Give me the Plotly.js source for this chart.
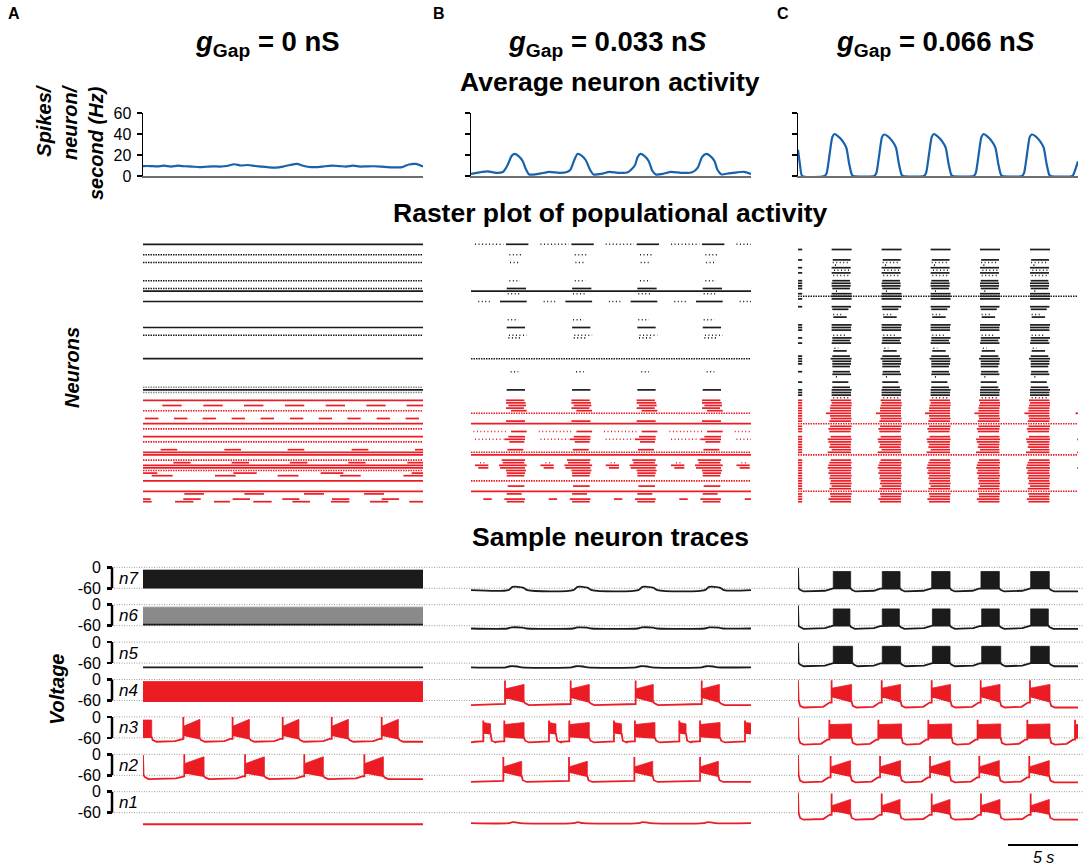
<!DOCTYPE html>
<html>
<head>
<meta charset="utf-8">
<script src="https://cdn.plot.ly/plotly-3.0.1.min.js"></script>
<style>
html,body{margin:0;padding:0;background:#ffffff;}
#chart{width:1084px;height:865px;}
</style>
</head>
<body>
<div id="chart"></div>
<script>
// ================= DATA =================
const panelLetters = ['A', 'B', 'C'];
const columnTitles = [
  '<i>g</i><sub>Gap</sub> = 0 nS',
  '<i>g</i><sub>Gap</sub> = 0.033 n<i>S</i>',
  '<i>g</i><sub>Gap</sub> = 0.066 n<i>S</i>'
];
const sectionTitles = ['Average neuron activity', 'Raster plot of populational activity', 'Sample neuron traces'];
const rateAxisTitle = 'Spikes/<br>neuron/<br>second (Hz)';
const rasterAxisTitle = 'Neurons';
const traceAxisTitle = 'Voltage';
const rateTicks = [0, 20, 40, 60];
const voltTicks = [0, -60];
const voltTickText = ['0', '-60'];
const neuronLabels = ['n7', 'n6', 'n5', 'n4', 'n3', 'n2', 'n1'];
const scaleBarSeconds = [15, 20];
const scaleBarLabel = '5 s';

// Average neuron activity (Hz) vs time (s)
const rateTimeA = [0,0.5,1,1.5,2,2.5,3,3.5,4,4.5,5,5.5,6,6.5,7,7.5,8,8.5,9,9.5,10,10.5,11,11.5,12,12.5,13,13.5,14,14.5,15,15.5,16,16.5,17,17.5,18,18.5,19,19.5,20];
const rateA = [9.5,9.5,9.2,9.8,9.0,9.8,9.3,9.0,8.5,8.8,9.2,9.0,9.5,11.2,10.0,10.5,9.5,9.0,8.2,8.0,9.0,10.5,11.5,9.5,8.5,8.5,9.3,9.8,9.5,9.0,9.8,9.0,9.2,9.3,9.0,8.5,8.2,8.5,11.0,11.5,9.0];
const rateTimeB = [0,0.6,1.2,1.8,2.3,2.6,2.9,3.1,3.4,3.7,3.9,4.15,4.6,5.0,5.6,6.3,6.8,7.1,7.4,7.6,7.9,8.2,8.5,8.75,9.3,9.9,10.5,11.2,11.7,11.9,12.1,12.4,12.7,12.95,13.2,13.7,14.3,15.0,15.8,16.2,16.5,16.8,17.1,17.4,17.6,17.9,18.4,19.0,19.5,20];
const rateB = [2,3.5,4.5,3,4,10,19,21,19,14,7,1.5,1.5,2.5,4,3,3.5,6,16,21,19.5,15,6,1.5,2,4,3,3.5,10,18,21,19,14,5,1.5,2,4,3,3.5,8,18,21,19,14,6,1.5,2.5,3.5,4,2];
const rateTimeC = [0,0.15,0.3,1.9,2.05,2.25,2.45,2.6,2.85,3.2,3.45,3.65,3.85,3.95,
  5.45,5.6,5.8,6.0,6.15,6.4,6.75,7.0,7.2,7.4,7.5,
  9.0,9.15,9.35,9.55,9.7,9.95,10.3,10.55,10.75,10.95,11.05,
  12.55,12.7,12.9,13.1,13.25,13.5,13.85,14.1,14.3,14.5,14.6,
  16.0,16.15,16.35,16.55,16.7,16.95,17.3,17.55,17.75,17.95,18.05,
  19.6,19.75,20];
const rateC = [25,10,0,0,3,20,37,40,38,33,27,12,1,0,
  0,3,20,37,39.5,38,33,27,12,1,0,
  0,3,20,37,40,38,33,27,12,1,0,
  0,3,20,37,40,38,33,27,12,1,0,
  0,3,20,37,39.5,38,33,27,12,1,0,
  0,4,14];

// Raster A: tonic rows [neuron, colour, pattern]
const rasterTonicA = [
  [100,'k','solid'],[96,'k','dot'],[93,'k','dot'],[86,'k','dot'],[83,'k','dot'],[82,'k','solid'],[78,'k','solid'],
  [68,'k','solid'],[65,'k','dot'],[56,'k','solid'],[45,'g','dot'],[44,'k','solid'],[43,'g','dot'],
  [40,'r','solid'],[36,'r','dot'],[31,'r','solid'],[29,'r','dot'],[26,'r','solid'],[24,'r','dot'],[20,'r','solid'],
  [19,'r','solid'],[17,'r','dot'],[15,'r','solid'],[14,'r','solid'],[13,'r','dot'],[9,'r','solid'],[5,'r','solid']
];
// Raster A: bursting rows [neuron, colour, [[start,end] s ...]]
const rasterBurstA = [
  [38,'r',[[1.38,2.76],[4.31,5.69],[7.21,8.60],[10.14,11.52],[13.05,14.43],[15.95,17.33],[18.83,20]]],
  [33,'r',[[0.14,1.10],[2.21,3.17],[4.26,5.21],[6.33,7.29],[8.40,9.36],[10.5,11.45],[12.55,13.5],[14.6,15.55],[16.69,17.64],[18.76,19.71]]],
  [21,'r',[[1.26,2.45],[5.81,7.0],[10.33,11.52],[14.9,16.1],[19.43,20]]],
  [16,'r',[[2.17,3.40],[6.33,7.57],[10.5,11.74],[14.67,15.9],[18.88,20]]],
  [12,'r',[[0,1.02],[6.45,8.12],[12.69,14.31],[19.19,20]]],
  [11,'r',[[0.62,2.12],[5.14,6.62],[9.62,11.1],[14.07,15.55],[18.6,20]]],
  [4,'r',[[2.95,4.36],[7.24,8.64],[11.5,12.93],[15.79,17.21]]],
  [2,'r',[[0,0.55],[2.88,4.12],[6.40,7.64],[9.95,11.17],[13.5,14.74],[17.05,18.29]]],
  [1,'r',[[0,0.62],[2.29,3.6],[5.07,6.21],[7.88,9.19],[10.67,11.93],[13.43,14.74],[16.21,17.52],[19.02,20]]]
];

// Raster B: cycle onsets (s), tonic rows, and per-cycle firing windows [neuron, colour, pattern, start, end]
const cycleOnsetsB = [0, 4.67, 9.33, 14.0, 18.67];
const rasterTonicB = [[82,'k','solid'],[56,'k','dot'],[35,'r','dot'],[31,'r','solid'],[20,'r','dot'],[19,'r','solid'],[9,'r','dot'],[5,'r','solid']];
const rasterCycleB = [
  [100,'k','sparse',0.29,2.31],[100,'k','solid',2.5,4.1],
  [96,'k','sparse',2.74,3.69],[93,'k','sparse',2.79,3.38],[86,'k','sparse',2.74,3.5],
  [83,'k','solid',2.55,3.93],[81,'k','sparse',2.62,3.45],
  [78,'k','sparse',0.52,1.36],[78,'k','solid',2.07,3.98],
  [71,'k','sparse',2.62,3.38],[68,'k','solid',2.55,3.86],[65,'k','sparse',2.71,3.98],[64,'k','sparse',2.67,3.55],
  [51,'k','sparse',2.83,3.38],[44,'k','solid',2.55,3.86],
  [40,'r','solid',2.5,3.81],[39,'r','solid',2.5,3.9],[38,'r','solid',2.67,3.93],[37,'r','solid',2.5,3.79],[36,'r','solid',2.86,3.98],
  [32,'r','solid',2.5,3.86],
  [28,'r','sparse',0.17,2.5],[28,'r','solid',2.86,3.98],
  [26,'r','solid',2.67,3.86],
  [25,'r','sparse',0.29,2.31],[25,'r','solid',2.38,3.86],
  [24,'r','solid',2.74,3.81],[21,'r','solid',2.6,3.74],[17,'r','solid',2.19,3.86],
  [16,'r','sparse',0.64,1.12],[16,'r','solid',2.26,3.81],
  [15,'r','solid',0.29,1.24],[15,'r','solid',2.0,3.98],
  [14,'r','solid',0.52,1.24],[14,'r','solid',2.07,3.86],
  [13,'r','solid',2.5,3.93],[12,'r','solid',2.55,3.86],[11,'r','solid',2.55,3.81],[7,'r','solid',2.62,3.81],
  [4,'r','solid',2.55,3.62],[2,'r','solid',0.88,1.48],[2,'r','solid',2.38,3.86],[1,'r','solid',2.55,3.81]
];

// Raster C
const cycleOnsetsC = [0, 3.57, 7.07, 10.6, 14.17, 17.82];
const rasterTonicC = [[80,'k','dot'],[31,'r','dot'],[19,'r','dot'],[5,'r','dot']];
const rasterCycleC = [
  [98,'k','solid',2.40,3.83],[94,'k','solid',2.48,3.76],[93,'k','sparse',2.48,3.71],[92,'k','sparse',2.64,2.76],
  [91,'k','solid',2.40,3.76],[90,'k','sparse',2.57,3.71],[89,'k','solid',2.40,3.76],[88,'k','sparse',2.52,3.60],
  [86,'k','solid',2.45,3.71],[85,'k','solid',2.40,3.76],[84,'k','solid',2.40,3.76],[83,'k','solid',2.45,3.71],
  [82,'k','sparse',2.71,2.95],[81,'k','solid',2.40,3.83],[80,'k','solid',2.40,3.83],[79,'k','solid',2.40,3.83],
  [76,'k','solid',2.40,3.79],[75,'k','solid',2.45,3.60],[73,'k','sparse',2.52,3.12],[72,'k','solid',2.52,3.48],
  [69,'k','solid',2.40,3.83],[68,'k','solid',2.40,3.79],[67,'k','solid',2.40,3.79],[65,'k','sparse',2.52,3.36],
  [64,'k','solid',2.45,3.83],[63,'k','solid',2.45,3.71],[62,'k','solid',2.40,3.79],[60,'k','sparse',2.60,2.88],
  [59,'k','solid',2.52,3.48],[57,'k','solid',2.45,3.71],[56,'k','solid',2.33,3.83],[55,'k','solid',2.45,3.79],
  [54,'k','solid',2.45,3.79],[53,'k','solid',2.45,3.71],[51,'k','solid',2.48,3.71],[50,'k','solid',2.45,3.79],
  [49,'k','sparse',2.71,2.88],[47,'k','solid',2.45,3.60],[45,'k','solid',2.45,3.71],[44,'k','solid',2.40,3.83],
  [43,'k','solid',2.40,3.79],[42,'k','solid',2.40,3.79],[41,'k','sparse',2.52,3.60],
  [40,'r','solid',2.33,3.79],[39,'r','solid',2.40,3.83],[38,'r','solid',2.33,3.83],[37,'r','solid',2.29,3.79],
  [36,'r','solid',2.29,3.79],[35,'r','solid',2.0,3.79],[34,'r','solid',2.29,3.79],[33,'r','solid',2.33,3.83],
  [32,'r','solid',2.24,3.79],[30,'r','solid',2.29,3.83],[29,'r','solid',2.17,3.79],[28,'r','solid',2.24,3.76],
  [26,'r','solid',2.33,3.79],[25,'r','solid',2.12,3.83],[24,'r','solid',2.17,3.79],[23,'r','solid',2.29,3.79],
  [22,'r','solid',2.24,3.76],[21,'r','solid',2.40,3.79],[20,'r','solid',2.12,3.79],[17,'r','solid',2.33,3.79],
  [16,'r','solid',2.24,3.83],[15,'r','solid',2.17,3.79],[14,'r','solid',2.12,3.83],[13,'r','solid',2.24,3.79],
  [12,'r','solid',2.17,3.79],[11,'r','solid',2.29,3.83],[10,'r','solid',2.24,3.79],[9,'r','solid',2.33,3.79],
  [8,'r','solid',2.29,3.83],[7,'r','solid',2.40,3.79],[6,'r','solid',2.24,3.79],[4,'r','solid',2.29,3.83],
  [3,'r','solid',2.33,3.79],[2,'r','solid',2.17,3.79],[1,'r','solid',2.29,3.79]
];
const rasterOnsetWindowC = [0, 0.3];
const rasterOnsetNeuronsC = [98,94,91,89,86,85,84,83,81,79,76,69,68,67,64,62,57,56,55,54,51,47,44,43,42,
  40,39,38,37,36,35,34,33,32,30,29,28,26,25,24,23,22,21,20,17,16,15,14,13,12,11,10,9,8,7,6,4,3,2,1];

// Sample neuron traces (mV); bursts: [start s, end s, (topStart, topEnd, botStart, botEnd)]
const tracesA = [
  {kind:'tonic', colour:'k', top:-8, bot:-58},
  {kind:'tonic', colour:'g', top:-7, bot:-57},
  {kind:'wave', colour:'k', rest:-72, bumps:[]},
  {kind:'tonic', colour:'r', top:-6, bot:-62},
  {kind:'burst', colour:'r', rest:-71, pre:-63, spike:0, top:[-27,-7], bot:[-52,-62],
   bursts:[[0,0.62,-9,-9,-58,-58],[2.88,4.07],[6.40,7.60],[9.98,11.14],[13.48,14.67],[17.05,18.24]]},
  {kind:'burst', colour:'r', rest:-71, pre:-63, spike:0, startSpike:true, top:[-27,-7], bot:[-52,-62],
   bursts:[[2.95,4.36],[7.29,8.67],[11.52,12.88],[15.81,17.17]]},
  {kind:'wave', colour:'r', rest:-93, bumps:[]}
];
const tracesB = [
  {kind:'wave', colour:'k', rest:-65, bumps:[[2.67,4.02,9],[7.31,8.62,9],[11.95,13.31,9],[16.71,18.07,9]]},
  {kind:'wave', colour:'k', rest:-68, bumps:[[2.6,4.0,3],[7.3,8.6,3],[11.9,13.3,3],[16.7,18.0,3]]},
  {kind:'wave', colour:'k', rest:-72, bumps:[[2.5,3.6,3],[7.2,8.3,3],[11.8,12.9,3],[16.5,17.6,3]]},
  {kind:'burst', colour:'r', rest:-73, pre:-70, spike:-3, top:[-27,-14], bot:[-50,-64],
   bursts:[[2.43,3.79],[7.12,8.45],[11.76,13.02],[16.48,17.74]]},
  {kind:'burst', colour:'r', rest:-73, pre:-70, spike:-10, top:[-22,-16], bot:[-56,-60],
   bursts:[[0.88,1.40,-16,-20,-45,-48],[2.38,3.79],[5.57,6.07,-16,-20,-45,-48],[7.02,8.45],[10.21,10.76,-16,-20,-45,-48],
           [11.71,13.14],[14.88,15.36,-16,-20,-45,-48],[16.36,17.79],[19.57,20,-16,-18,-45,-48]]},
  {kind:'burst', colour:'r', rest:-79, pre:-76, spike:-8, top:[-36,-20], bot:[-50,-62],
   bursts:[[2.31,3.62],[7.0,8.31],[11.67,12.98],[16.36,17.67]]},
  {kind:'wave', colour:'r', rest:-90, bumps:[[2.67,3.5,3],[7.31,8.02,3],[11.95,12.79,3],[16.6,17.43,3]]}
];
const tracesC = [
  {kind:'burst', colour:'k', rest:-69, pre:-61, startSpike:true, top:[-12,-12], bot:[-60,-60],
   bursts:[[2.52,3.76],[6.02,7.29],[9.55,10.86],[13.07,14.38],[16.62,17.95]]},
  {kind:'burst', colour:'k', rest:-69, pre:-61, startSpike:true, top:[-12,-12], bot:[-60,-60],
   bursts:[[2.52,3.71],[6.02,7.24],[9.60,10.86],[13.12,14.38],[16.62,17.88]]},
  {kind:'burst', colour:'k', rest:-69, pre:-61, startSpike:true, top:[-12,-12], bot:[-60,-60],
   bursts:[[2.52,3.90],[6.02,7.33],[9.60,10.86],[13.12,14.48],[16.62,17.95]]},
  {kind:'burst', colour:'r', rest:-80, pre:-66, spike:-2, startSpike:true, top:[-25,-14], bot:[-48,-63],
   bursts:[[2.40,3.83],[5.98,7.33],[9.55,10.90],[13.05,14.43],[16.57,18.0]]},
  {kind:'burst', colour:'r', rest:-79, pre:-65, spike:-8, startSpike:true, top:[-22,-20], bot:[-60,-60],
   bursts:[[2.24,3.83],[5.74,7.40],[9.31,10.98],[12.83,14.48],[16.38,18.0],[19.79,20,-22,-22,-60,-60]]},
  {kind:'burst', colour:'r', rest:-80, pre:-66, spike:-5, startSpike:true, top:[-36,-18], bot:[-50,-62],
   bursts:[[2.33,3.76],[5.86,7.33],[9.43,10.86],[12.95,14.38],[16.52,17.95]]},
  {kind:'burst', colour:'r', rest:-80, pre:-66, spike:-5, startSpike:true, top:[-40,-22], bot:[-52,-63],
   bursts:[[2.40,3.76],[5.98,7.29],[9.55,10.86],[13.07,14.43],[16.62,17.95]]}
];

// ================= STYLE / GEOMETRY =================
const W = 1084, H = 865;
const px = x => x / W;
const py = y => 1 - y / H;
const FONT = 'Liberation Sans, Arial, Helvetica, sans-serif';
const COL = {k:'#1b1b1b', r:'#ec1c24', g:'#8a8a8a'};
const BLUE = '#1761ad';
const X_COLS = [[143,423],[471,751],[798,1078]];
const RATE_TOP = 113, RATE_BOT = 176;
const RASTER_TOP = 243, RASTER_BOT = 503;
const ROW_ZERO = [567.3, 604.7, 642.1, 679.5, 716.9, 754.3, 791.7];
const MV_PX = 0.35;
const PATTERN = {
  solid: {dash:'solid', width:1.7},
  dot: {dash:'1.5px,1px', width:1.6},
  sparse: {dash:'1px,2.5px', width:1.6}
};

const data = [];

// ---- average activity ----
[[rateTimeA, rateA], [rateTimeB, rateB], [rateTimeC, rateC]].forEach((d, i) => {
  data.push({type:'scatter', mode:'lines', x:d[0], y:d[1],
    xaxis: i === 0 ? 'x' : 'x' + (i + 1), yaxis: i === 0 ? 'y' : 'y' + (i + 1),
    line:{color:BLUE, width:2.2, shape:'spline', smoothing:0.6}, hoverinfo:'skip'});
});

// ---- raster ----
function rasterTraces(col, segs) {
  const groups = {};
  segs.forEach(s => {
    const key = s.c + '|' + s.p;
    if (!groups[key]) groups[key] = {x:[], y:[], c:s.c, p:s.p};
    groups[key].x.push(s.a, s.b, null);
    groups[key].y.push(s.n, s.n, null);
  });
  const order = ['g|dot','k|sparse','k|dot','k|solid','r|sparse','r|dot','r|solid'];
  order.forEach(key => {
    const g = groups[key];
    if (!g) return;
    data.push({type:'scatter', mode:'lines', x:g.x, y:g.y, xaxis:'x' + (4 + col), yaxis:'y4',
      line:{color:COL[g.c], width:PATTERN[g.p].width, dash:PATTERN[g.p].dash}, hoverinfo:'skip'});
  });
}
function clipSeg(list, n, c, p, a, b) {
  const s = Math.max(0, a), e = Math.min(20, b);
  if (e > s) list.push({n, c, p, a:s, b:e});
}
// A
(function(){
  const segs = [];
  rasterTonicA.forEach(r => clipSeg(segs, r[0], r[1], r[2], 0, 20));
  rasterBurstA.forEach(r => r[2].forEach(iv => clipSeg(segs, r[0], r[1], 'solid', iv[0], iv[1])));
  rasterTraces(0, segs);
})();
// B
(function(){
  const segs = [];
  rasterTonicB.forEach(r => clipSeg(segs, r[0], r[1], r[2], 0, 20));
  rasterCycleB.forEach(r => cycleOnsetsB.forEach(o => clipSeg(segs, r[0], r[1], r[2], r[3] + o, r[4] + o)));
  rasterTraces(1, segs);
})();
// C
(function(){
  const segs = [];
  rasterTonicC.forEach(r => clipSeg(segs, r[0], r[1], r[2], 0, 20));
  rasterCycleC.forEach(r => cycleOnsetsC.forEach(o => clipSeg(segs, r[0], r[1], r[2], r[3] + o, r[4] + o)));
  rasterOnsetNeuronsC.forEach(n => clipSeg(segs, n, n > 40 ? 'k' : 'r', 'solid', rasterOnsetWindowC[0], rasterOnsetWindowC[1]));
  rasterTraces(2, segs);
})();

// ---- sample traces ----
function buildTrace(sp) {
  const lx = [], ly = [], fx = [], fy = [];
  const add = (t, v) => {
    if (lx.length && t < lx[lx.length - 1]) return;
    lx.push(t); ly.push(v);
  };
  if (sp.kind === 'tonic') {
    fx.push(0, 0, 20, 20, null); fy.push(sp.bot, sp.top, sp.top, sp.bot, null);
    add(0, sp.bot); add(20, sp.bot);
    return {lx, ly, fx, fy, smooth:false};
  }
  if (sp.kind === 'wave') {
    add(0, sp.rest);
    sp.bumps.forEach(b => {
      add(b[0], sp.rest); add(b[0] + 0.3, sp.rest + b[2]); add(b[1] - 0.3, sp.rest + b[2] * 0.75); add(b[1], sp.rest);
    });
    add(20, sp.rest);
    return {lx, ly, fx, fy, smooth:true};
  }
  if (sp.startSpike) { add(0, -2); add(0.04, -60); add(0.15, sp.rest + 5); add(0.4, sp.rest); }
  else if (sp.bursts[0][0] > 0.01) add(0, sp.rest);
  sp.bursts.forEach(b => {
    const s = b[0], e = b[1];
    const t0 = b.length > 2 ? b[2] : sp.top[0];
    const t1 = b.length > 3 ? b[3] : sp.top[1];
    const b0 = b.length > 4 ? b[4] : sp.bot[0];
    const b1 = b.length > 5 ? b[5] : sp.bot[1];
    if (s > 0.01) {
      add(s - 0.6, sp.rest + 2); add(s - 0.15, sp.pre); add(s, sp.pre);
      if (sp.spike !== undefined) add(s, sp.spike);
      add(s, b0);
    } else add(0, b0);
    add(e, b1);
    fx.push(s, s, e, e, null); fy.push(b0, t0, t1, b1, null);
    if (e < 19.95) { add(e + 0.08, sp.rest + 5); add(e + 0.35, sp.rest); }
  });
  if (lx[lx.length - 1] < 20) add(20, sp.rest);
  return {lx, ly, fx, fy, smooth:false};
}
[tracesA, tracesB, tracesC].forEach((col, c) => {
  col.forEach((sp, k) => {
    const tr = buildTrace(sp);
    const xa = 'x' + (4 + c), ya = 'y' + (5 + k);
    const colour = COL[sp.colour];
    if (tr.fx.length) {
      data.push({type:'scatter', mode:'lines', x:tr.fx, y:tr.fy, xaxis:xa, yaxis:ya, fill:'toself',
        fillcolor:colour, line:{color:colour, width:0.8}, hoverinfo:'skip'});
    }
    data.push({type:'scatter', mode:'lines', x:tr.lx, y:tr.ly, xaxis:xa, yaxis:ya,
      line:{color: sp.colour === 'g' ? COL.k : colour, width:1.8, shape: tr.smooth ? 'spline' : 'linear', smoothing:0.8},
      hoverinfo:'skip'});
  });
});

// ================= LAYOUT =================
const layout = {
  width:W, height:H, margin:{l:0, r:0, t:0, b:0},
  paper_bgcolor:'#ffffff', plot_bgcolor:'rgba(0,0,0,0)',
  showlegend:false,
  font:{family:FONT, color:'#000', size:16},
  annotations:[], shapes:[]
};
for (let c = 0; c < 3; c++) {
  const xa = c === 0 ? 'xaxis' : 'xaxis' + (c + 1);
  const ya = c === 0 ? 'yaxis' : 'yaxis' + (c + 1);
  const dom = [px(X_COLS[c][0]), px(X_COLS[c][1])];
  layout[xa] = {domain:dom, range:[0, 20], anchor: c === 0 ? 'y' : 'y' + (c + 1), showline:true,
    linecolor:'#6e6e6e', linewidth:2, showgrid:false, zeroline:false, ticks:'', showticklabels:false,
    fixedrange:true, layer:'below traces'};
  layout[ya] = {domain:[py(RATE_BOT), py(RATE_TOP)], range:[0, 60], anchor: c === 0 ? 'x' : 'x' + (c + 1),
    tickvals:rateTicks, ticktext:rateTicks.map(String), ticks:'outside', ticklen:5, tickwidth:1.5, tickcolor:'#000',
    showline:true, linecolor:'#000', linewidth:1.5, showgrid:false, zeroline:false,
    showticklabels: c === 0, tickfont:{size:16, family:FONT}, ticklabelstandoff:2, fixedrange:true};
  layout['xaxis' + (c + 4)] = {domain:dom, range:[0, 20], anchor:'y4', visible:false, fixedrange:true};
}
layout.yaxis4 = {domain:[py(RASTER_BOT), py(RASTER_TOP)], range:[0.5, 100.5], anchor:'x4', visible:false, fixedrange:true};
ROW_ZERO.forEach((z, k) => {
  const ya = 'y' + (5 + k);
  layout['yaxis' + (5 + k)] = {domain:[py(z + 100 * MV_PX), py(z - 15 * MV_PX)], range:[-100, 15],
    anchor:'free', position:px(112), tickvals:voltTicks, ticktext:voltTickText, ticks:'outside',
    ticklen:5, tickwidth:2.5, tickcolor:'#000', showline:false, showgrid:false, zeroline:false,
    tickfont:{size:16, family:FONT}, ticklabelstandoff:3, fixedrange:true};
  // bracket
  layout.shapes.push({type:'line', xref:'paper', yref:ya, x0:px(112), x1:px(112), y0:0, y1:-60,
    line:{color:'#000', width:2.5}});
  // dotted reference lines
  voltTicks.forEach(v => layout.shapes.push({type:'line', xref:'paper', yref:ya, x0:px(114), x1:1, y0:v, y1:v,
    layer:'below', line:{color:'#9c9c9c', width:1, dash:'1px,1.5px'}}));
  layout.annotations.push({xref:'paper', yref:'paper', x:px(128), y:py(z + 11), text:'<i>' + neuronLabels[k] + '</i>',
    showarrow:false, xanchor:'center', yanchor:'middle', font:{size:17, family:FONT, color:'#000'}});
});
// scale bar
layout.shapes.push({type:'line', xref:'x6', yref:'paper', x0:scaleBarSeconds[0], x1:scaleBarSeconds[1],
  y0:py(845), y1:py(845), line:{color:'#000', width:2}});

function ann(x, y, text, opts) {
  layout.annotations.push(Object.assign({xref:'paper', yref:'paper', x:px(x), y:py(y), text:text, showarrow:false,
    xanchor:'center', yanchor:'middle', font:{size:16, family:FONT, color:'#000'}}, opts || {}));
}
ann(6, 13, '<b>' + panelLetters[0] + '</b>', {xanchor:'left', font:{size:16, family:FONT, color:'#000'}});
ann(431, 13, '<b>' + panelLetters[1] + '</b>', {xanchor:'left', font:{size:16, family:FONT, color:'#000'}});
ann(775, 13, '<b>' + panelLetters[2] + '</b>', {xanchor:'left', font:{size:16, family:FONT, color:'#000'}});
ann(267, 43, '<b>' + columnTitles[0] + '</b>', {font:{size:27.5, family:FONT, color:'#000'}});
ann(607, 43, '<b>' + columnTitles[1] + '</b>', {font:{size:27.5, family:FONT, color:'#000'}});
ann(935, 43, '<b>' + columnTitles[2] + '</b>', {font:{size:27.5, family:FONT, color:'#000'}});
ann(610, 82, '<b>' + sectionTitles[0] + '</b>', {font:{size:26.5, family:FONT, color:'#000'}});
ann(610, 213, '<b>' + sectionTitles[1] + '</b>', {font:{size:26.5, family:FONT, color:'#000'}});
ann(610, 537, '<b>' + sectionTitles[2] + '</b>', {font:{size:26.5, family:FONT, color:'#000'}});
ann(70, 142, '<b><i>' + rateAxisTitle + '</i></b>', {textangle:-90, align:'right', font:{size:20, family:FONT, color:'#000'}});
ann(72, 368, '<b><i>' + rasterAxisTitle + '</i></b>', {textangle:-90, font:{size:20, family:FONT, color:'#000'}});
ann(57, 689, '<b><i>' + traceAxisTitle + '</i></b>', {textangle:-90, font:{size:20, family:FONT, color:'#000'}});
ann(1043, 857, '<i>' + scaleBarLabel + '</i>', {font:{size:16, family:FONT, color:'#000'}});

Plotly.newPlot('chart', data, layout, {staticPlot:true, displayModeBar:false});
</script>
</body>
</html>
